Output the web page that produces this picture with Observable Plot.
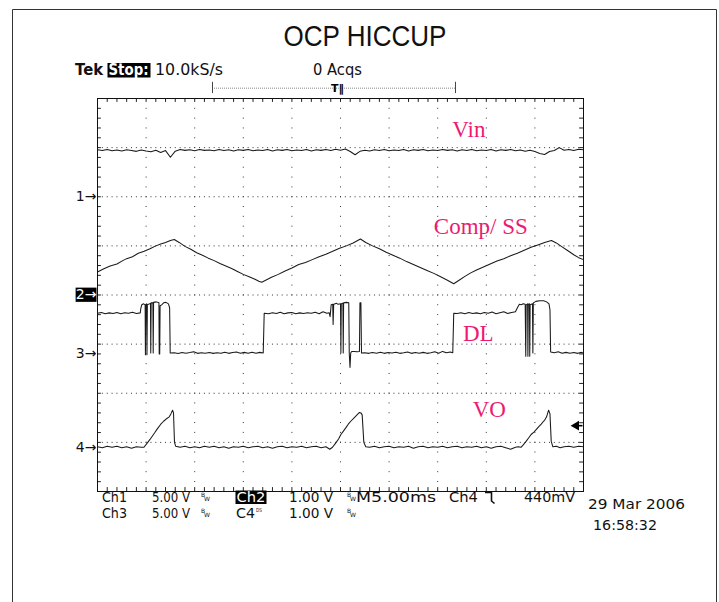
<!DOCTYPE html>
<html>
<head>
<meta charset="utf-8">
<script src="https://cdn.jsdelivr.net/npm/d3@7"></script>
<script src="https://cdn.jsdelivr.net/npm/@observablehq/plot@0.6"></script>
<style>
  html, body { margin: 0; padding: 0; background: #fff; }
  body { width: 719px; height: 602px; position: relative; overflow: hidden; }
  #chart { position: absolute; left: 0; top: 0; }
  #overlay { position: absolute; left: 0; top: 0; pointer-events: none; }
  #overlay text { font-family: "DejaVu Sans", sans-serif; fill: #111; }
</style>
</head>
<body>
<div id="chart"></div>
<svg id="overlay" width="719" height="602">
  <path d="M12.5,602 V9.5 H716.5 V602" fill="none" stroke="#333" stroke-width="1"/>
  <text x="365" y="46" text-anchor="middle" style="font-family:'Liberation Sans',Arial,sans-serif" font-size="29" textLength="163" lengthAdjust="spacingAndGlyphs">OCP HICCUP</text>
  <text x="75" y="75" font-weight="bold" font-size="15" textLength="28" lengthAdjust="spacingAndGlyphs">Tek</text>
  <rect x="107.5" y="63" width="43" height="14.5" fill="#000"/>
  <text x="108.5" y="75" font-weight="bold" font-size="15" textLength="40" lengthAdjust="spacingAndGlyphs" style="fill:#fff">Stop:</text>
  <text x="155" y="75" font-size="15" textLength="68" lengthAdjust="spacingAndGlyphs">10.0kS/s</text>
  <text x="313" y="75" font-size="15" textLength="49" lengthAdjust="spacingAndGlyphs">0 Acqs</text>

  <text x="102" y="502" font-size="13.5" textLength="25" lengthAdjust="spacingAndGlyphs">Ch1</text>
  <text x="152" y="502" font-size="13.5" textLength="38" lengthAdjust="spacingAndGlyphs">5.00 V</text>
  <text x="201" y="497" font-size="6">B<tspan dx="-1" dy="4">W</tspan></text>
  <rect x="235.5" y="490.5" width="31" height="13.5" fill="#000"/>
  <text x="236.5" y="502" font-size="13.5" textLength="29" lengthAdjust="spacingAndGlyphs" style="fill:#fff">Ch2</text>
  <text x="289" y="502" font-size="13.5" textLength="44" lengthAdjust="spacingAndGlyphs">1.00 V</text>
  <text x="347" y="497" font-size="6">B<tspan dx="-1" dy="4">W</tspan></text>
  <text x="356" y="502" font-size="13.5" textLength="80" lengthAdjust="spacingAndGlyphs">M5.00ms</text>
  <text x="449" y="502" font-size="13.5" textLength="29" lengthAdjust="spacingAndGlyphs">Ch4</text>
  <path d="M485,492.5 H491.5 V501 L494.5,503.5" fill="none" stroke="#111" stroke-width="1.6"/>
  <text x="524" y="502" font-size="13.5" textLength="51" lengthAdjust="spacingAndGlyphs">440mV</text>

  <text x="102" y="518" font-size="13.5" textLength="25" lengthAdjust="spacingAndGlyphs">Ch3</text>
  <text x="152" y="518" font-size="13.5" textLength="38" lengthAdjust="spacingAndGlyphs">5.00 V</text>
  <text x="201" y="513" font-size="6">B<tspan dx="-1" dy="4">W</tspan></text>
  <text x="236" y="518" font-size="13.5" textLength="19" lengthAdjust="spacingAndGlyphs">C4</text>
  <text x="256" y="512" font-size="5.5" textLength="6" lengthAdjust="spacingAndGlyphs">DS</text>
  <text x="289" y="518" font-size="13.5" textLength="44" lengthAdjust="spacingAndGlyphs">1.00 V</text>
  <text x="347" y="513" font-size="6">B<tspan dx="-1" dy="4">W</tspan></text>

  <text x="588" y="509" font-size="14.5" textLength="97" lengthAdjust="spacingAndGlyphs">29 Mar 2006</text>
  <text x="593" y="530" font-size="14.5" textLength="64" lengthAdjust="spacingAndGlyphs">16:58:32</text>
</svg>
<script>
// ---- Channel settings (V/div, ground position in screen divisions) ----
const channels = [
  { name: "Vin",     ch: "1", voltsPerDiv: 5, ground: 2.0 },
  { name: "Comp/ SS", ch: "2", voltsPerDiv: 1, ground: 0.0 },
  { name: "DL",      ch: "3", voltsPerDiv: 5, ground: -1.2 },
  { name: "VO",      ch: "4", voltsPerDiv: 1, ground: -3.1 }
];

// ---- Ch1: Vin (V), sampled every 0.5 ms from 0 to 50 ms ----
const vinStep = 0.5;
const vinValues = [
  4.78,4.70,4.80,4.68,4.76,4.66,4.78,4.70,4.62,4.76,
  4.66,4.58,4.74,4.50,4.70,4.02,4.64,4.80,4.72,4.78,
  4.68,4.80,4.72,4.76,4.68,4.80,4.70,4.78,4.66,4.78,
  4.72,4.80,4.68,4.76,4.70,4.80,4.66,4.78,4.72,4.80,
  4.68,4.76,4.70,4.80,4.66,4.78,4.72,4.82,4.70,4.84,
  4.74,4.86,4.60,4.28,4.62,4.74,4.66,4.78,4.70,4.80,
  4.68,4.76,4.70,4.80,4.66,4.78,4.72,4.80,4.68,4.76,
  4.70,4.80,4.72,4.78,4.66,4.78,4.70,4.80,4.68,4.76,
  4.70,4.80,4.66,4.78,4.72,4.80,4.68,4.76,4.62,4.74,
  4.60,4.40,4.30,4.60,4.70,5.00,4.74,4.82,4.70,4.84,
  4.78
];

// ---- Ch2: Comp/SS [ms, V] ----
const compSS = [
  [0,0.47],[0.6,0.53],[1.3,0.59],[2.0,0.63],[2.6,0.70],[3.0,0.74],[3.6,0.78],[4.2,0.85],[4.8,0.89],
  [5.4,0.94],[6.0,1.00],[6.5,1.04],[7.0,1.07],[7.5,1.11],[7.9,1.13],[8.4,1.07],[9.0,0.99],[9.6,0.93],
  [10.2,0.86],[10.8,0.81],[11.4,0.75],[12.0,0.70],[12.6,0.64],[13.2,0.59],[13.8,0.54],[14.4,0.48],
  [15.0,0.42],[15.6,0.37],[16.2,0.32],[16.6,0.28],[16.9,0.26],[17.3,0.30],[17.9,0.36],[18.6,0.42],
  [19.3,0.49],[20.0,0.55],[20.7,0.62],[21.4,0.66],[22.1,0.72],[22.8,0.78],[23.5,0.83],[24.2,0.89],
  [24.9,0.95],[25.6,1.00],[26.3,1.06],[27.05,1.14],[27.6,1.07],[28.3,1.00],[29.0,0.94],[29.7,0.87],
  [30.4,0.81],[31.1,0.75],[31.8,0.68],[32.5,0.62],[33.2,0.56],[33.9,0.50],[34.6,0.44],[35.3,0.37],
  [36.0,0.30],[36.65,0.23],[37.2,0.30],[37.8,0.38],[38.4,0.45],[39.0,0.51],[39.7,0.57],[40.4,0.63],
  [41.1,0.69],[41.8,0.74],[42.5,0.80],[43.2,0.85],[43.9,0.91],[44.6,0.97],[45.3,1.02],[46.0,1.07],
  [46.7,1.11],[47.2,1.06],[47.8,0.98],[48.4,0.90],[49.0,0.82],[49.5,0.76],[50,0.72]
];

// ---- Ch3: DL gate drive [ms, V] ----
const dl = [
  [0,4.15],[0.4,4.22],[0.8,4.10],[1.2,4.18],[1.6,4.12],[2.0,4.22],[2.4,4.10],[2.8,4.20],[3.2,4.14],[3.6,4.24],[4.0,4.12],[4.4,4.18],
  [4.45,4.6],[4.55,5.0],[4.75,5.1],[4.9,5.0],[4.93,-0.07],[4.97,5.05],[5.06,5.1],[5.09,-0.07],[5.13,5.0],[5.45,5.15],[5.48,0.1],[5.52,5.2],
  [5.70,5.2],[5.73,0.1],[5.77,5.25],[6.05,5.3],[6.32,5.2],[6.35,0.0],[6.40,0.0],[6.44,4.9],[6.6,5.0],[6.8,5.2],[7.05,5.25],[7.3,5.1],[7.42,4.7],[7.48,0.1],
  [7.9,0.12],[8.3,0.05],[8.7,0.15],[9.1,0.08],[9.5,0.14],[9.9,0.22],[10.3,0.06],[10.7,0.12],[11.1,0.08],[11.5,0.14],[11.9,0.06],[12.3,0.12],
  [12.7,0.08],[13.1,0.18],[13.5,0.06],[13.9,0.14],[14.3,0.20],[14.7,0.08],[15.1,0.16],[15.5,0.06],[15.9,0.18],[16.3,0.08],[16.7,0.16],[17.05,0.10],
  [17.15,4.15],[17.6,4.10],[18.0,4.20],[18.4,4.12],[18.8,4.24],[19.2,4.10],[19.6,4.18],[20.0,4.22],[20.4,4.10],[20.8,4.18],[21.2,4.12],[21.6,4.20],
  [22.0,4.14],[22.4,4.24],[22.8,4.10],[23.2,4.30],[23.6,4.14],[23.83,4.20],
  [23.93,3.8],[24.04,5.0],[24.2,5.05],[24.24,3.0],[24.3,5.05],[24.45,5.1],[24.6,5.15],[24.75,5.05],[25.0,5.1],[25.04,0.1],[25.08,5.1],[25.25,5.15],
  [25.28,0.1],[25.32,5.2],[25.6,5.25],[25.85,5.2],[25.9,0.1],[25.98,-1.37],[26.05,0.1],[26.15,0.25],[26.4,0.25],[26.7,0.22],[26.95,0.25],[27.0,5.2],
  [27.1,5.2],[27.16,0.1],
  [27.5,0.12],[27.9,0.06],[28.3,0.15],[28.7,0.08],[29.1,0.18],[29.5,0.06],[29.9,0.14],[30.3,0.10],[30.7,0.18],[31.1,0.06],[31.5,0.12],[31.9,0.20],
  [32.3,0.06],[32.7,0.14],[33.1,0.08],[33.5,0.16],[33.9,0.06],[34.3,0.12],[34.7,0.22],[35.1,0.08],[35.5,0.26],[35.9,0.12],[36.3,0.20],[36.55,0.12],
  [36.65,4.15],[37.0,4.12],[37.4,4.20],[37.8,4.10],[38.2,4.22],[38.6,4.12],[39.0,4.18],[39.4,4.10],[39.8,4.22],[40.2,4.14],[40.6,4.26],[41.0,4.10],
  [41.4,4.20],[41.8,4.30],[42.2,4.12],[42.6,4.22],[43.0,4.30],
  [43.2,4.7],[43.4,5.05],[43.6,5.0],[43.8,5.1],[44.0,5.05],[44.06,-0.24],[44.1,5.0],[44.25,5.1],[44.28,-0.24],[44.32,5.05],[44.44,5.1],[44.47,-0.24],
  [44.51,5.0],[44.75,5.1],[44.79,0.1],[44.84,5.2],[45.1,5.35],[45.5,5.42],[45.9,5.42],[46.2,5.3],[46.45,5.1],[46.55,4.5],[46.62,0.2],
  [47.0,0.12],[47.4,0.22],[47.8,0.06],[48.2,0.16],[48.6,0.08],[49.0,0.14],[49.4,0.06],[49.8,0.16],[50,0.10]
];

// ---- Ch4: VO output [ms, V] ----
const vo = [
  [0,0.01],[0.5,-0.01],[1.0,0.02],[1.5,0.0],[2.0,0.02],[2.5,-0.01],[3.0,0.01],[3.5,-0.02],[4.0,0.01],[4.5,0.0],[4.78,0.0],
  [5.13,0.09],[5.4,0.16],[5.65,0.23],[5.9,0.30],[6.17,0.38],[6.51,0.47],[6.8,0.53],[7.03,0.57],[7.38,0.62],[7.55,0.68],[7.72,0.755],[7.82,0.70],[7.92,0.10],[8.05,0.02],
  [8.5,0.0],[9.0,0.02],[9.5,-0.01],[10.0,0.01],[10.5,-0.01],[11.0,0.02],[11.5,0.0],[12.0,0.02],[12.5,-0.01],[13.0,0.01],[13.5,-0.02],[14.0,0.01],
  [14.5,0.0],[15.0,0.02],[15.5,-0.01],[16.0,0.01],[16.5,0.02],[17.0,-0.01],[17.5,0.01],[18.0,-0.02],[18.5,0.01],[19.0,0.02],[19.5,-0.01],[20.0,0.01],
  [20.5,0.0],[21.0,0.02],[21.5,-0.01],[22.0,0.01],[22.5,0.02],[23.0,-0.01],[23.5,0.01],[23.9,-0.04],[24.18,0.0],
  [24.52,0.09],[24.8,0.17],[25.04,0.26],[25.3,0.33],[25.56,0.40],[25.8,0.47],[26.08,0.535],[26.35,0.59],[26.6,0.64],[26.8,0.68],[26.95,0.71],[27.1,0.70],[27.23,0.66],[27.4,0.10],[27.6,0.01],
  [28.0,0.0],[28.5,0.02],[29.0,-0.01],[29.5,0.01],[30.0,0.02],[30.5,-0.01],[31.0,0.01],[31.5,0.0],[32.0,0.02],[32.5,-0.02],[33.0,0.01],[33.5,0.02],
  [34.0,-0.01],[34.5,0.01],[35.0,0.0],[35.5,0.02],[36.0,-0.01],[36.5,0.01],[37.0,0.02],[37.5,-0.01],[38.0,0.01],[38.5,0.0],[39.0,0.02],[39.5,-0.01],
  [40.0,0.01],[40.5,-0.02],[41.0,0.01],[41.5,0.02],[42.0,-0.01],[42.5,-0.04],[43.0,0.0],[43.3,0.01],[43.57,0.0],
  [43.8,0.05],[44.09,0.12],[44.35,0.19],[44.61,0.26],[44.9,0.31],[45.13,0.36],[45.4,0.42],[45.65,0.47],[45.85,0.52],[46.0,0.55],[46.2,0.62],[46.41,0.755],[46.55,0.68],[46.68,0.12],[46.85,0.01],
  [47.2,0.02],[47.6,-0.01],[48.0,0.01],[48.5,0.02],[49.0,0.0],[49.5,0.02],[50,0.01]
];

// ---- Annotations ----
const traceLabels = [
  { text: "Vin",      t: 36.5, div: 3.22 },
  { text: "Comp/ SS", t: 34.6, div: 1.25 },
  { text: "DL",       t: 37.6, div: -0.93 },
  { text: "VO",       t: 38.6, div: -2.49 }
];
const triggerLevel = 0.44;           // Ch4 trigger level, V
const recordWindow = [11.83, 36.83]; // ms, record indicator bracket
const triggerPoint = 24.7;           // ms

// ---- Screen (10 x 8 divisions, 5 ms/div) ----
const timeDomain = [0, 50];
const divDomain = [-4, 4];

const toDiv = (c, v) => c.ground + v / c.voltsPerDiv;
const [chVin, chComp, chDL, chVO] = channels;

const vinData = vinValues.map((v, i) => [i * vinStep, v]);

const minorT = d3.range(1, 50, 1);
const minorD = d3.range(-3.8, 3.81, 0.2);
const magenta = "#ec1a72";
const trace = { stroke: "#1a1a1a", strokeWidth: 1.05, strokeLinejoin: "round" };

const plot = Plot.plot({
  width: 719,
  height: 602,
  marginLeft: 97,
  marginRight: 136,
  marginTop: 98,
  marginBottom: 111,
  x: { domain: timeDomain, axis: null },
  y: { domain: divDomain, axis: null },
  style: { background: "none", overflow: "visible", fontFamily: "DejaVu Sans, sans-serif" },
  marks: [
    // graticule
    Plot.ruleX(d3.range(5, 50, 5), { stroke: "#333", strokeDasharray: "1,8.82" }),
    Plot.ruleY(d3.range(-3, 4, 1), { stroke: "#333", strokeDasharray: "1,3.86" }),
    Plot.ruleX(minorT, { y1: 4, y2: 3.92, stroke: "#222" }),
    Plot.ruleX(minorT, { y1: -4, y2: -3.92, stroke: "#222" }),
    Plot.ruleY(minorD, { x1: 0, x2: 0.4, stroke: "#222" }),
    Plot.ruleY(minorD, { x1: 50, x2: 49.6, stroke: "#222" }),
    Plot.frame({ stroke: "#111" }),
    // traces
    Plot.line(vinData,  { x: d => d[0], y: d => toDiv(chVin, d[1]), ...trace }),
    Plot.line(compSS,   { x: d => d[0], y: d => toDiv(chComp, d[1]), ...trace }),
    Plot.line(dl,       { x: d => d[0], y: d => toDiv(chDL, d[1]), ...trace }),
    Plot.line(vo,       { x: d => d[0], y: d => toDiv(chVO, d[1]), ...trace }),
    // channel ground markers
    Plot.rect([chComp], { x1: -2.2, x2: -0.05, y1: d => d.ground - 0.15, y2: d => d.ground + 0.14, fill: "#000" }),
    Plot.text(channels, { x: 0, y: "ground", text: d => d.ch + "→", textAnchor: "end", dx: -1, fontSize: 14,
      fill: d => d.ch === "2" ? "#fff" : "#111" }),
    // trigger level arrow (right)
    Plot.ruleY([triggerLevel], { y: d => toDiv(chVO, d), x1: 49.2, x2: 49.95, stroke: "#000", strokeWidth: 1.6 }),
    Plot.dot([triggerLevel], { x: 49.25, y: d => toDiv(chVO, d), symbol: "triangle", r: 3.6, fill: "#000", stroke: "none", rotate: -90 }),
    // record window indicator (top)
    Plot.ruleY([4.21], { x1: recordWindow[0], x2: recordWindow[1], stroke: "#888", strokeDasharray: "1,1" }),
    Plot.ruleX(recordWindow, { y1: 4.1, y2: 4.33, stroke: "#444" }),
    Plot.text([triggerPoint], { x: d => d, y: 4.21, text: () => "T‖", fontSize: 11, fontWeight: "bold", fill: "#000" }),
    // trace names
    Plot.text(traceLabels, { x: "t", y: "div", text: "text", textAnchor: "start", lineAnchor: "bottom",
      fontFamily: "Liberation Serif, Times New Roman, serif", fontSize: 23, fill: magenta })
  ]
});
document.getElementById("chart").append(plot);
</script>
</body>
</html>
